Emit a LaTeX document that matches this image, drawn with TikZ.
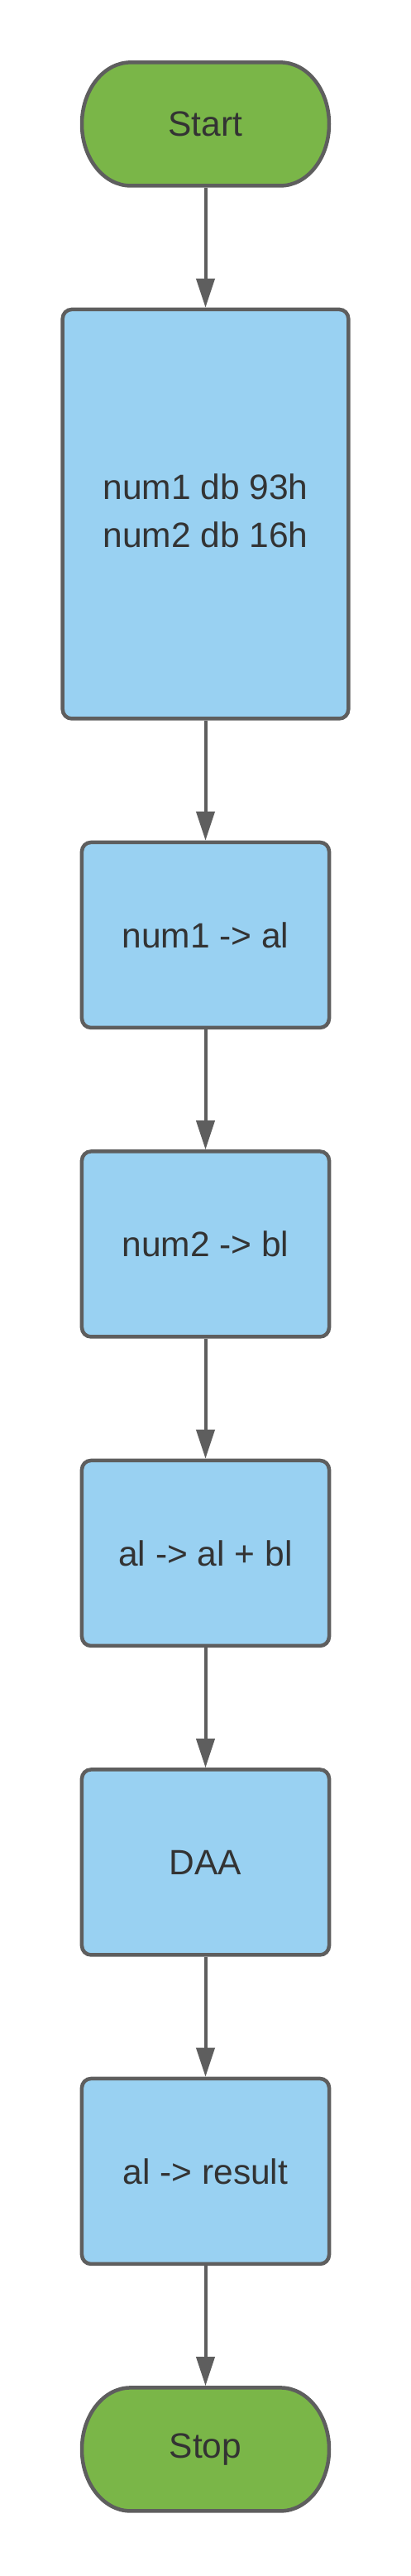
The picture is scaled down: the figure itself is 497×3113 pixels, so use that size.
\documentclass[tikz,border=0pt]{standalone}
\usepackage{fontspec}
\setmainfont{Liberation Sans}
\usetikzlibrary{matrix,arrows.meta,backgrounds}

\definecolor{termgreen}{HTML}{7AB648}
\definecolor{procblue}{HTML}{99D1F2}
\definecolor{edgegray}{HTML}{5E5E5E}
\definecolor{textgray}{HTML}{333333}

\tikzset{
  termbox/.style={rectangle, draw=none, outer sep=0pt,
                  minimum width=303.5pt, minimum height=153.5pt},
  termedge/.style={draw=edgegray, fill=termgreen, line width=4.5pt},
  procbox/.style={rectangle, rounded corners=11pt, fill=procblue,
                  minimum width=299pt, minimum height=224pt},
  flowarrow/.style={draw=edgegray, line width=4pt,
                    -{Triangle[length=35pt,width=22pt]}}
}

\begin{document}
\begin{tikzpicture}[x=1pt,y=1pt]
    \useasboundingbox (0,0) rectangle (497,3113);
    \matrix (flow) [matrix of nodes,
            ampersand replacement=\&,
            anchor=north, inner sep=0pt,
            nodes={draw=edgegray, line width=4.5pt, text=textgray,
                   inner sep=0pt, outer sep=2.25pt,
                   font=\fontsize{42.5}{58}\selectfont},
            row sep=145pt] at (248.5,3040) {
      |[termbox] (start)| Start \\
      |[procbox, minimum width=345.5pt, minimum height=494.5pt] (data)|
         \begin{tabular}{@{}c@{}}num1 db 93h\\num2 db 16h\end{tabular} \\
      |[procbox] (mov1)|  num1 -> al \\
      |[procbox] (mov2)|  num2 -> bl \\
      |[procbox] (add)|   al -> al + bl \\
      |[procbox] (daa)|   DAA \\
      |[procbox] (store)| al -> result \\
      |[termbox] (stop)|  Stop \\
    };
    % terminal outlines with elliptic ends
    \begin{scope}[on background layer]
      \foreach \term in {start,stop}
        \draw[termedge]
          ([shift={(61pt,-2.25pt)}]\term.north west)
          -- ([shift={(-61pt,-2.25pt)}]\term.north east)
          arc[start angle=90, end angle=-90, x radius=58.75pt, y radius=74.5pt]
          -- ([shift={(61pt,2.25pt)}]\term.south west)
          arc[start angle=270, end angle=90, x radius=58.75pt, y radius=74.5pt]
          -- cycle;
    \end{scope}
    \foreach \src/\dst in {start/data, data/mov1, mov1/mov2, mov2/add,
                           add/daa, daa/store, store/stop}
      \draw[flowarrow] (\src) -- (\dst);
    \end{tikzpicture}
\end{document}
